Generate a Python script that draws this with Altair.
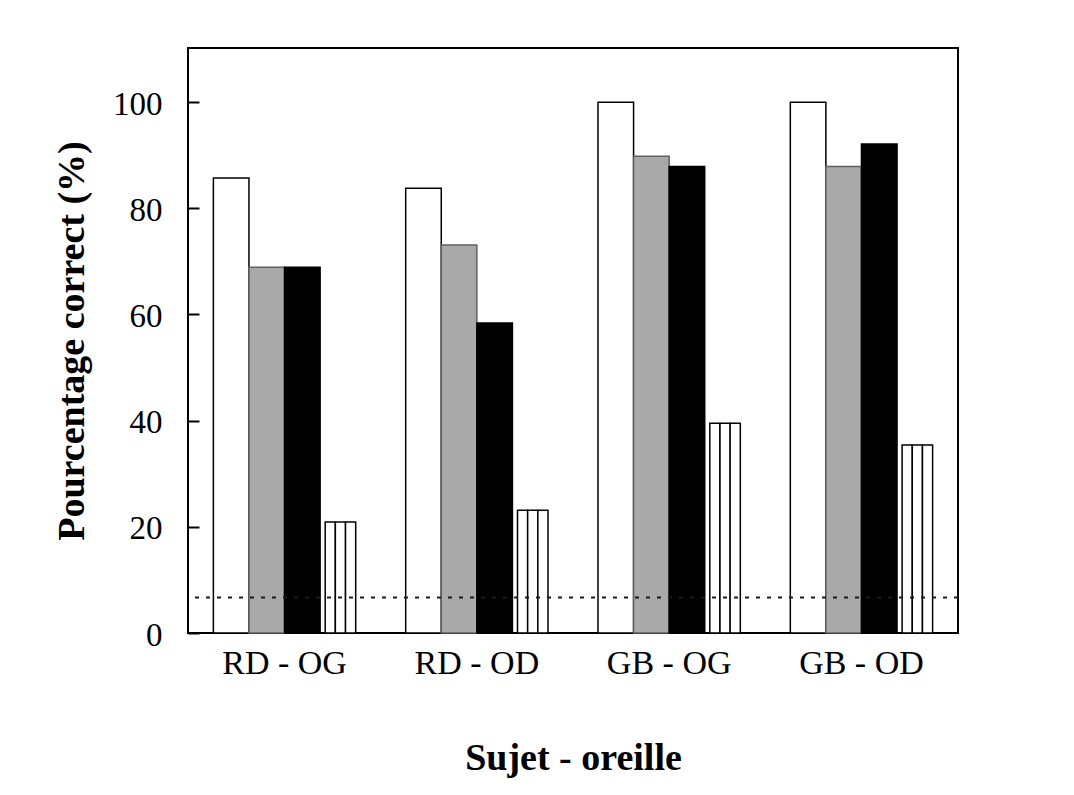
import altair as alt
import pandas as pd

# ---- data ----
GROUPS = ["RD - OG", "RD - OD", "GB - OG", "GB - OD"]
SERIES = ["blanc", "gris", "noir", "rayé"]
WHITE = [85.7, 83.8, 100.0, 100.0]
GRAY = [68.9, 73.1, 89.8, 87.9]
BLACK = [68.9, 58.4, 87.9, 92.1]
STRIPED = [20.9, 23.1, 39.5, 35.4]
CHANCE = 6.7
Y_TICKS = [0, 20, 40, 60, 80, 100]
Y_MAX = 110.2

FONT = "Liberation Serif"

rows = []
for g, w, gr, b in zip(GROUPS, WHITE, GRAY, BLACK):
    rows.append({"groupe": g, "serie": "blanc", "val": w})
    rows.append({"groupe": g, "serie": "gris", "val": gr})
    rows.append({"groupe": g, "serie": "noir", "val": b})
bars_df = pd.DataFrame(rows)

# striped bar drawn as three adjacent outlined strips
STRIP_SLOTS = [f"v{i}" for i in range(11)] + ["r1", "r2", "r3"]
srows = []
for g, s in zip(GROUPS, STRIPED):
    for k in ["r1", "r2", "r3"]:
        srows.append({"groupe": g, "bande": k, "val": s})
strip_df = pd.DataFrame(srows)

x_enc = alt.X(
    "groupe:N",
    sort=GROUPS,
    scale=alt.Scale(domain=GROUPS, paddingInner=0.26, paddingOuter=0.132),
    axis=alt.Axis(
        ticks=False,
        domain=False,
        labelAngle=0,
        labelFont=FONT,
        labelFontSize=34,
        labelColor="black",
        labelBaseline="alphabetic",
        labelPadding=40,
        titleFont=FONT,
        titleFontSize=38,
        titleFontWeight="bold",
        titleColor="black",
        titleBaseline="alphabetic",
        titleY=136,
    ),
    title="Sujet - oreille",
)

y_enc = alt.Y(
    "val:Q",
    scale=alt.Scale(domain=[0, Y_MAX], nice=False, zero=True),
    axis=alt.Axis(
        values=Y_TICKS,
        grid=False,
        domain=False,
        offset=-11,
        tickSize=11,
        tickWidth=2,
        tickColor="black",
        labelFont=FONT,
        labelFontSize=33,
        labelColor="black",
        labelPadding=26,
        labelOffset=2,
        titleFont=FONT,
        titleFontSize=38,
        titleFontWeight="bold",
        titleColor="black",
        titleBaseline="alphabetic",
        titleX=-116,
    ),
    title="Pourcentage correct (%)",
)

bars = alt.Chart(bars_df).mark_bar(strokeWidth=1.5).encode(
    x=x_enc,
    xOffset=alt.XOffset("serie:N", scale=alt.Scale(domain=SERIES, paddingInner=0, paddingOuter=0)),
    y=y_enc,
    fill=alt.Fill("serie:N", scale=alt.Scale(domain=SERIES, range=["white", "#a9a9a9", "black", "white"]), legend=None),
    stroke=alt.Stroke("serie:N", scale=alt.Scale(domain=SERIES, range=["black", "#606060", "black", "black"]), legend=None),
)

strips = alt.Chart(strip_df).mark_bar(fill="white", stroke="black", strokeWidth=1.5).encode(
    x=alt.X("groupe:N", sort=GROUPS),
    xOffset=alt.XOffset("bande:N", scale=alt.Scale(domain=STRIP_SLOTS, paddingInner=0, paddingOuter=0)),
    y=alt.Y("val:Q"),
)

chance = alt.Chart(pd.DataFrame({"val": [CHANCE]})).mark_rule(
    color="#1a1a1a", strokeWidth=2, strokeDash=[4, 7]
).encode(y=alt.Y("val:Q"))

chart = (
    alt.layer(bars, strips, chance)
    .resolve_scale(xOffset="independent")
    .properties(
        width=770,
        height=585,
        autosize=alt.AutoSizeParams(type="none"),
        padding={"left": 180, "top": 40, "right": 60, "bottom": 150},
        background="white",
    )
    .configure_view(stroke="black", strokeWidth=2)
)

chart.save("out.html", embed_options={"renderer": "svg", "actions": False})
